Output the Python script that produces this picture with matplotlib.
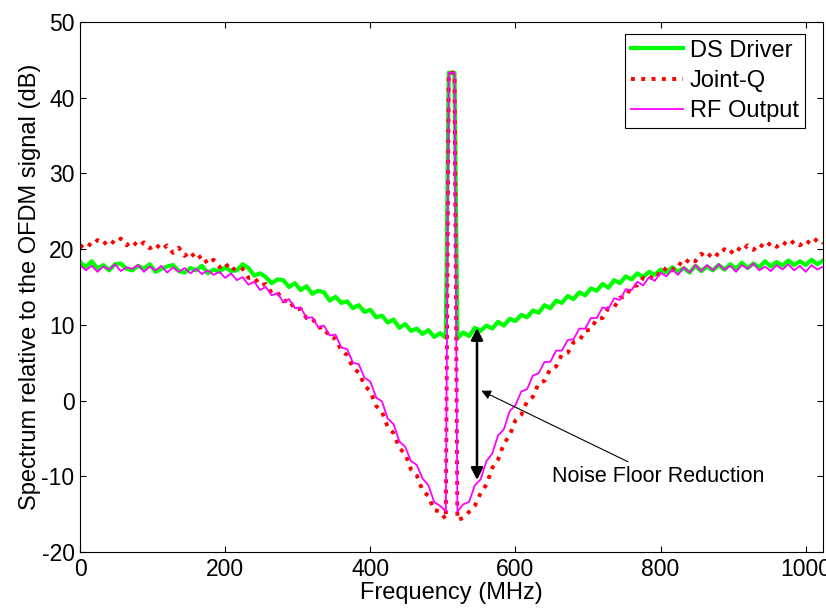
import numpy as np
import matplotlib
matplotlib.use('Agg')
import matplotlib.pyplot as plt

plt.rcParams['font.family'] = ['Liberation Sans', 'DejaVu Sans']
plt.rcParams['axes.unicode_minus'] = False

# measured spectra, 8 MHz bins from 0 to 1024 MHz
freq = np.arange(0, 1025, 8)

ds_driver = [
    18.3, 17.6, 18.4, 17.4, 17.9, 17.2, 18.0, 18.1, 17.4, 17.2, 17.8, 17.4, 18.0, 17.0, 17.4, 17.7,
    17.9, 17.1, 16.9, 17.5, 17.2, 17.8, 16.8, 17.3, 17.0, 17.6, 17.1, 17.2, 18.0, 17.5, 16.5, 16.8,
    16.3, 15.5, 16.0, 15.9, 15.0, 15.5, 14.6, 15.1, 14.1, 14.5, 14.3, 13.2, 13.7, 12.9, 13.1, 12.2,
    12.6, 11.7, 12.0, 11.0, 11.2, 10.3, 10.7, 9.6, 10.1, 9.2, 9.5, 8.8, 9.3, 8.4, 8.9, 8.3,
    43.3,
    8.2, 9.0, 8.5, 9.6, 9.2, 9.9, 9.5, 10.4, 9.9, 10.8, 10.5, 11.3, 11.0, 11.9, 11.6, 12.6,
    12.2, 13.2, 12.9, 13.8, 13.4, 14.3, 13.9, 14.8, 14.5, 15.4, 14.9, 15.9, 15.5, 16.4, 16.0, 16.8,
    16.3, 17.0, 16.6, 17.3, 16.9, 17.6, 17.0, 17.5, 16.9, 17.8, 17.1, 17.7, 17.2, 17.9, 17.3, 18.0,
    17.4, 18.2, 17.5, 18.1, 17.6, 18.4, 17.7, 18.3, 17.8, 18.5, 17.9, 18.4, 17.9, 18.6, 18.0, 18.5,
]

joint_q = [
    20.2, 20.9, 20.4, 21.2, 20.6, 21.3, 20.7, 21.4, 20.5, 21.1, 20.3, 20.9, 20.1, 20.7, 19.9, 20.5,
    19.5, 20.2, 19.1, 19.7, 18.6, 19.2, 18.0, 18.6, 17.6, 18.2, 17.1, 17.7, 17.4, 16.2, 16.3, 15.2,
    15.4, 14.2, 14.3, 13.1, 13.3, 12.0, 12.1, 10.9, 10.9, 9.6, 9.7, 8.3, 8.2, 6.6, 6.0, 4.3,
    3.7, 2.0, 1.2, -0.7, -1.5, -3.5, -4.3, -6.3, -7.0, -9.1, -9.9, -11.9, -12.6, -14.5, -14.6, -15.7,
    43.3,
    -15.8, -15.5, -14.7, -13.9, -12.2, -11.1, -8.9, -7.8, -5.7, -4.6, -2.6, -1.9, -0.1, 0.5, 2.3, 2.6,
    4.2, 4.5, 6.1, 6.3, 7.7, 7.9, 9.2, 9.4, 10.8, 10.9, 12.2, 12.3, 13.6, 13.7, 15.1, 15.2,
    16.2, 15.9, 16.9, 16.5, 17.6, 17.2, 18.2, 17.8, 18.8, 18.4, 19.4, 18.8, 19.7, 19.1, 20.0, 19.4,
    20.3, 19.7, 20.5, 19.9, 20.7, 20.1, 20.9, 20.3, 21.0, 20.4, 21.1, 20.5, 21.2, 20.6, 21.4, 20.8,
]

rf_output = [
    17.9, 17.2, 17.8, 17.0, 17.7, 17.3, 18.0, 17.1, 17.6, 17.4, 17.9, 17.0, 17.7, 17.2, 17.8, 16.9,
    17.6, 17.0, 17.5, 16.8, 17.4, 16.7, 17.2, 16.6, 17.0, 16.2, 16.8, 15.9, 16.3, 15.3, 15.7, 14.6,
    15.0, 13.9, 14.2, 13.0, 13.4, 12.2, 12.3, 10.9, 11.0, 9.7, 9.9, 8.6, 8.7, 7.0, 6.8, 5.0,
    4.8, 3.0, 2.5, 0.4, -0.1, -2.4, -3.1, -5.4, -6.1, -8.0, -8.5, -10.3, -11.2, -13.4, -13.9, -14.6,
    43.3,
    -14.7, -13.7, -13.4, -11.2, -10.4, -8.0, -7.0, -4.6, -3.8, -1.4, -0.6, 1.2, 1.5, 3.3, 3.6, 5.1,
    5.1, 6.6, 6.6, 8.0, 8.1, 9.5, 9.5, 10.9, 10.9, 12.3, 12.1, 13.5, 13.3, 14.7, 14.6, 15.7,
    15.2, 16.3, 15.8, 16.9, 16.4, 17.3, 16.6, 17.6, 16.9, 17.9, 17.1, 17.9, 17.2, 18.0, 17.3, 17.8,
    17.0, 17.9, 17.4, 18.1, 17.2, 17.7, 17.1, 17.9, 17.3, 18.0, 17.2, 17.8, 17.0, 17.9, 17.3, 17.7,
]

# the OFDM carrier tone is a few bins wide, sampled on either side of 512 MHz
tone_freq = [508, 516]
tone_level = 43.3


def with_tone(values):
    f = np.concatenate([freq, tone_freq])
    y = np.concatenate([values, [tone_level] * len(tone_freq)])
    order = np.argsort(f, kind='stable')
    return f[order], y[order]


fig = plt.figure(figsize=(8.26, 6.11), dpi=100)
ax = fig.add_axes([0.097, 0.0966, 0.8995, 0.8674])

f, y = with_tone(ds_driver)
ax.plot(f, y, color='#00ff00', lw=3.0, label='DS Driver')
f, y = with_tone(joint_q)
ax.plot(f, y, color='#ff0000', lw=2.8, ls=':', label='Joint-Q')
f, y = with_tone(rf_output)
ax.plot(f, y, color='#ff00ff', lw=1.3, label='RF Output')

# noise floor gap between driver and output at ~547 MHz
ax.annotate('', xy=(547, -10.5), xytext=(547, 9.6),
            arrowprops=dict(arrowstyle='<|-|>', color='k', lw=1.8,
                            mutation_scale=18, shrinkA=0, shrinkB=0))
ax.annotate('Noise Floor Reduction', xy=(553, 1.3), xytext=(650, -10.0),
            fontsize=15.5, va='center', ha='left',
            arrowprops=dict(arrowstyle='-|>', color='k', lw=0.8,
                            mutation_scale=14, shrinkA=2, shrinkB=0))

ax.set_xlim(0, 1024)
ax.set_ylim(-20, 50)
ax.set_xticks([0, 200, 400, 600, 800, 1000])
ax.set_yticks(np.arange(-20, 51, 10))
ax.tick_params(direction='in', top=True, right=True, labelsize=16.5, length=4, pad=4)
ax.set_xlabel('Frequency (MHz)', fontsize=17, labelpad=1)
ax.set_ylabel('Spectrum relative to the OFDM signal (dB)', fontsize=17, labelpad=0)

leg = ax.legend(loc='upper right', bbox_to_anchor=(0.975, 0.978), borderaxespad=0,
                fontsize=17, fancybox=False, framealpha=1, edgecolor='k',
                handlelength=2.2, handletextpad=0.3, labelspacing=0.35,
                borderpad=0.25)
leg.get_frame().set_linewidth(0.8)

fig.savefig('out.png', dpi=100)
